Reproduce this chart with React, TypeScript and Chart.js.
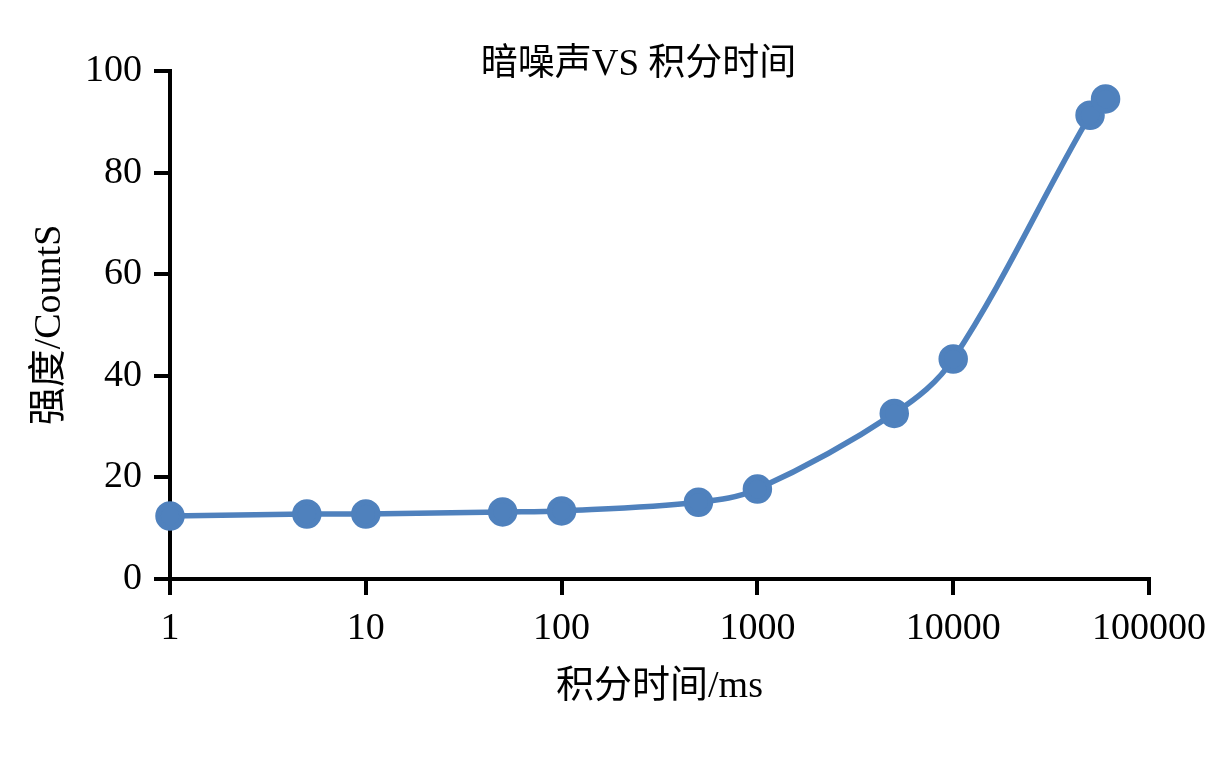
import { useEffect, useRef } from 'react';
import { Chart, registerables } from 'chart.js';
Chart.register(...registerables);

const FONT = "'Liberation Serif', 'Noto Sans CJK SC', serif";

// 积分时间 (ms) 与暗噪声强度
const times = [1, 5, 10, 50, 100, 500, 1000, 5000, 10000, 50000, 60000];
const counts = [12.4, 12.8, 12.8, 13.2, 13.4, 15.1, 17.7, 32.6, 43.3, 91.3, 94.5];
const xTicks = [1, 10, 100, 1000, 10000, 100000];
const yTicks = [0, 20, 40, 60, 80, 100];

const titleText = '暗噪声VS 积分时间';
const xTitle = '积分时间/ms';
const yTitle = '强度/CountS';

const titlePlugin = {
  id: 'topTitle',
  afterDraw(chart: Chart) {
    const { ctx, chartArea } = chart;
    ctx.save();
    ctx.font = `37px ${FONT}`;
    ctx.fillStyle = '#000';
    ctx.textAlign = 'center';
    ctx.textBaseline = 'middle';
    ctx.fillText(titleText, (chartArea.left + chartArea.right) / 2 - 21, chartArea.top - 6);
    ctx.restore();
  },
};

export default function App() {
  const ref = useRef<HTMLCanvasElement>(null);

  useEffect(() => {
    const axisGrid = {
      display: true,
      drawOnChartArea: false,
      drawTicks: true,
      tickLength: 16,
      color: '#000',
      lineWidth: 4,
    };
    const chart = new Chart(ref.current!, {
      type: 'line',
      data: {
        datasets: [{
          label: yTitle,
          data: times.map((t, i) => ({ x: t, y: counts[i] })),
          borderColor: '#4F81BD',
          backgroundColor: '#4F81BD',
          pointBackgroundColor: '#4F81BD',
          pointBorderColor: '#4F81BD',
          pointRadius: 12,
          borderWidth: 5.5,
          tension: 0.35,
          clip: false,
        }],
      },
      options: {
        responsive: false,
        animation: false,
        layout: { padding: { top: 71, right: 70, left: 0, bottom: 0 } },
        plugins: {
          legend: { display: false },
          tooltip: { enabled: false },
        },
        scales: {
          x: {
            type: 'logarithmic',
            min: 1,
            max: 100000,
            afterBuildTicks: (s: any) => { s.ticks = xTicks.map(v => ({ value: v })); },
            afterFit: (s: any) => { s.height = 191; },
            ticks: {
              color: '#000',
              font: { size: 38, family: FONT },
              padding: 11,
              maxRotation: 0,
              autoSkip: false,
              callback: (v: any) => String(v),
            },
            grid: axisGrid,
            border: { display: true, color: '#000', width: 4 },
            title: {
              display: true,
              text: xTitle,
              color: '#000',
              font: { size: 38, family: FONT },
              padding: { top: 0, bottom: 60 },
            },
          },
          y: {
            min: 0,
            max: 100,
            afterBuildTicks: (s: any) => { s.ticks = yTicks.map(v => ({ value: v })); },
            afterFit: (s: any) => { s.width = 170; },
            ticks: {
              color: '#000',
              font: { size: 38, family: FONT },
              padding: 12,
            },
            grid: axisGrid,
            border: { display: true, color: '#000', width: 4 },
            title: {
              display: true,
              text: yTitle,
              color: '#000',
              font: { size: 38, family: FONT },
              padding: { top: 27, bottom: 0 },
            },
          },
        },
      },
      plugins: [titlePlugin],
    });
    return () => chart.destroy();
  }, []);

  return (
    <div style={{ position: 'absolute', left: 0, top: 0, width: 1219, height: 770, background: '#fff' }}>
      <canvas ref={ref} width={1219} height={770} style={{ display: 'block' }} />
    </div>
  );
}
